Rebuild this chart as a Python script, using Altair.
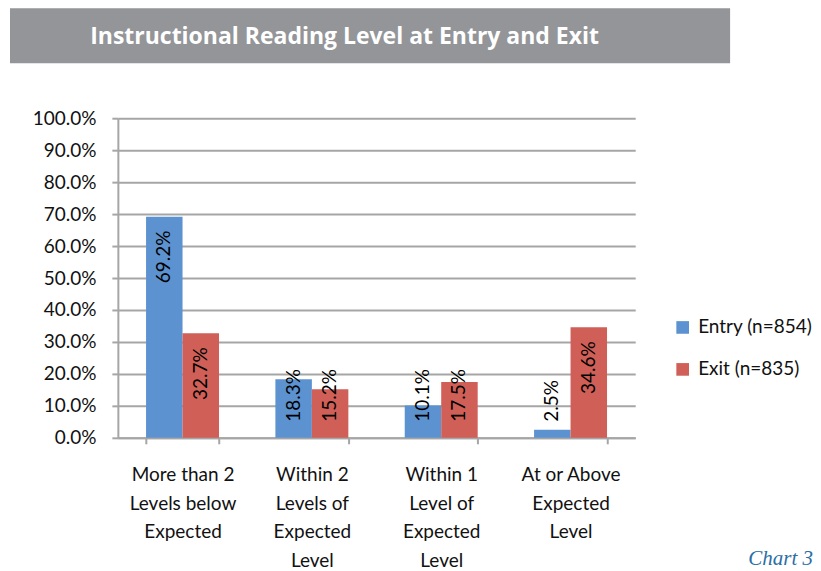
import altair as alt
import pandas as pd

title_text = "Instructional Reading Level at Entry and Exit"
categories = [
    "More than 2|Levels below|Expected",
    "Within 2|Levels of|Expected|Level",
    "Within 1|Level of|Expected|Level",
    "At or Above|Expected|Level",
]
series = ["Entry (n=854)", "Exit (n=835)"]
entry_values = [69.2, 18.3, 10.1, 2.5]
exit_values = [32.7, 15.2, 17.5, 34.6]
y_ticks = [0, 10, 20, 30, 40, 50, 60, 70, 80, 90, 100]
colors = ["#5B92CF", "#CF5F57"]
footnote = "Chart 3"

rows = []
for cat, e, x in zip(categories, entry_values, exit_values):
    rows.append({"category": cat, "series": series[0], "value": e})
    rows.append({"category": cat, "series": series[1], "value": x})
df = pd.DataFrame(rows)
df["label"] = df["value"].map(lambda v: f"{v:.1f}%")

FONT = "Lato, 'Open Sans', sans-serif"
GRID = "#a6a6a6"

base = alt.Chart(df).encode(
    x=alt.X(
        "category:N",
        sort=categories,
        scale=alt.Scale(paddingInner=0.436, paddingOuter=0.218),
        axis=alt.Axis(
            title=None,
            labelAngle=0,
            labelExpr="split(datum.label, '|')",
            tickBand="extent",
            grid=False,
            domainColor=GRID,
            domainWidth=2,
            tickColor=GRID,
            tickWidth=2,
            tickSize=6,
            labelFont=FONT,
            labelFontSize=19,
            labelLineHeight=28.5,
            labelPadding=22,
            labelColor="#111111",
        ),
    ),
    xOffset=alt.XOffset("series:N", sort=series, scale=alt.Scale(paddingInner=0, paddingOuter=0)),
)

y_scale = alt.Scale(domain=[0, 100])
y_axis = alt.Axis(
    title=None,
    values=y_ticks,
    tickCount=12,
    labelExpr="format(datum.value, '.1f') + '%'",
    labelOverlap=False,
    grid=True,
    gridColor=GRID,
    gridWidth=2,
    domainColor=GRID,
    domainWidth=2,
    tickColor=GRID,
    tickWidth=2,
    tickSize=6,
    labelFont=FONT,
    labelFontSize=19,
    labelPadding=16,
    labelColor="#111111",
    minExtent=108,
    maxExtent=108,
)

bars = base.mark_bar().encode(
    y=alt.Y("value:Q", scale=y_scale, axis=y_axis),
    color=alt.Color(
        "series:N",
        sort=series,
        scale=alt.Scale(domain=series, range=colors),
        legend=alt.Legend(
            title=None,
            orient="none",
            legendX=556,
            legendY=310,
            symbolType="square",
            symbolSize=160,
            symbolStrokeWidth=0,
            labelFont=FONT,
            labelFontSize=19,
            labelColor="#111111",
            labelOffset=6,
            rowPadding=22,
        ),
    ),
)

inside_labels = base.transform_filter("datum.value >= 25").mark_text(
    angle=270, align="right", baseline="middle", dx=-14, font=FONT, fontSize=19, color="#000000"
).encode(y=alt.Y("value:Q", scale=y_scale, axis=y_axis), text="label:N")

base_labels = base.transform_filter("datum.value < 25").mark_text(
    angle=270, align="left", baseline="middle", dx=16, font=FONT, fontSize=19, color="#000000"
).encode(y=alt.YDatum(0, scale=y_scale, axis=y_axis), text="label:N")

main = alt.layer(bars, inside_labels, base_labels).properties(
    width=518,
    height=320,
    title=alt.TitleParams(
        footnote,
        orient="bottom",
        anchor="end",
        frame="bounds",
        font="'Liberation Serif', 'DejaVu Serif', serif",
        fontStyle="italic",
        fontWeight="normal",
        fontSize=21,
        color="#2a6ea6",
        offset=-22,
        dx=178,
    ),
)

title_box = alt.Chart(pd.DataFrame({"t": [title_text]})).mark_rect(color="#939598").encode(
    x=alt.value(-108), x2=alt.value(613), y=alt.value(0), y2=alt.value(55)
)
title_label = alt.Chart(pd.DataFrame({"t": [title_text]})).mark_text(
    font="'Open Sans', Lato, sans-serif",
    fontSize=23,
    fontWeight="bold",
    color="white",
).encode(x=alt.value(227), y=alt.value(29), text="t:N")
title_panel = alt.layer(title_box, title_label).properties(width=518, height=55)

chart = alt.vconcat(title_panel, main, spacing=46).properties(
    padding={"left": 2, "top": 0, "right": 0, "bottom": 0}
).configure_view(strokeWidth=0)

chart.save("out.html", embed_options={"renderer": "svg", "actions": False})
